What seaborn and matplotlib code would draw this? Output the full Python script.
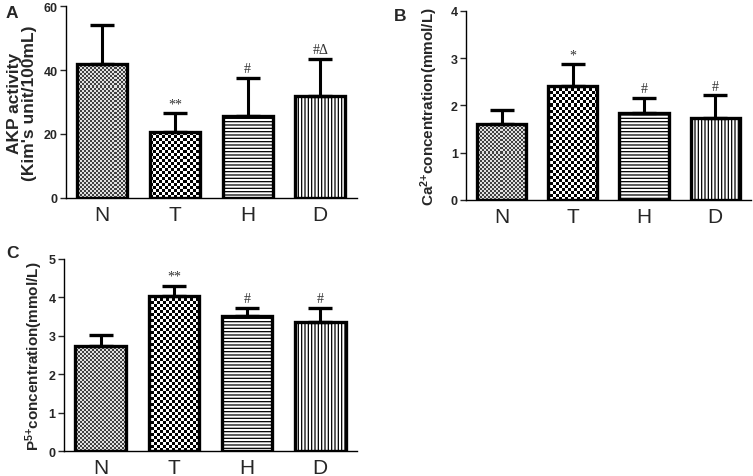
import matplotlib
matplotlib.use("Agg")
import matplotlib.pyplot as plt
import seaborn as sns
import numpy as np
import pandas as pd

# data
groups = ["N", "T", "H", "D"]
akp_mean = [42.0, 20.5, 25.5, 32.0]
akp_upper = [54.0, 26.5, 37.5, 43.5]
ca_mean = [1.60, 2.40, 1.83, 1.73]
ca_upper = [1.91, 2.87, 2.15, 2.21]
p_mean = [2.73, 4.03, 3.52, 3.35]
p_upper = [3.03, 4.30, 3.72, 3.73]
akp_marks = ["", "**", "#", "#\u0394"]
ca_marks = ["", "*", "#", "#"]
p_marks = ["", "**", "#", "#"]

sns.set_style("ticks")
plt.rcParams['font.family'] = ['Liberation Sans', 'DejaVu Sans']
plt.rcParams['mathtext.fontset'] = 'custom'
plt.rcParams['mathtext.rm'] = 'Liberation Sans'
plt.rcParams['mathtext.bf'] = 'Liberation Sans:bold'
plt.rcParams['mathtext.default'] = 'bf'
plt.rcParams['hatch.linewidth'] = 0.9
plt.rcParams['hatch.color'] = '#444444'

W, H = 7.53, 4.77
fig = plt.figure(figsize=(W, H), dpi=100)


def checker(ax, cell_px):
    bb = ax.get_position()
    nx = int(round(bb.width * W * 100 / cell_px))
    ny = int(round(bb.height * H * 100 / cell_px))
    yy, xx = np.mgrid[0:ny, 0:nx]
    return (xx + yy) % 2


def panel(rect, means, upper, marks, ymax, yticks, ylabel, ylabel_size,
          letter, lpos, ylabel_x):
    ax = fig.add_axes(rect)
    df = pd.DataFrame({"group": groups, "value": means})
    sns.barplot(data=df, x="group", y="value", color="white", edgecolor="black",
                linewidth=2.4, width=0.69, errorbar=None, ax=ax, zorder=3)
    bars = list(ax.patches)
    for b in bars:
        b.set_facecolor("none")
    # checkerboard fills for N (fine, grey) and T (coarse, black/white)
    for b, cell, cols in [(bars[0], 2, ("#e0e0e0", "#404040")),
                          (bars[1], 3, ("white", "black"))]:
        cmap = matplotlib.colors.ListedColormap(list(cols))
        im = ax.imshow(checker(ax, cell), cmap=cmap, vmin=0, vmax=1,
                       extent=(0, 1, 0, 1), transform=ax.transAxes,
                       interpolation="nearest", aspect="auto", zorder=2)
        im.set_clip_path(b)
    bars[2].set_hatch("-----")
    bars[3].set_hatch("|||||")

    err = np.array(upper) - np.array(means)
    ax.errorbar(range(4), means, yerr=[np.zeros(4), err], fmt="none",
                ecolor="black", elinewidth=2.2, capsize=8.5, capthick=2.4, zorder=4)
    for i, m in enumerate(marks):
        if m:
            ax.text(i, upper[i] + ymax * 0.015, m, ha="center", va="bottom",
                    fontsize=10, color="#333333",
                    family=["Liberation Serif", "DejaVu Serif"])

    ax.set_xlim(-0.5, 3.5)
    ax.set_ylim(0, ymax)
    ax.set_yticks(yticks)
    ax.set_yticklabels([str(t) for t in yticks], fontweight="bold", fontsize=9)
    ax.tick_params(axis="y", length=4, width=1, pad=2)
    ax.tick_params(axis="x", length=0, labelsize=15, pad=5)
    ax.set_xlabel("")
    ax.set_ylabel(ylabel, fontsize=ylabel_size, fontweight="bold", linespacing=1.0)
    ax.yaxis.set_label_coords(ylabel_x, 0.5)
    for s in ["top", "right"]:
        ax.spines[s].set_visible(False)
    for s in ["left", "bottom"]:
        ax.spines[s].set_linewidth(1.0)
        ax.spines[s].set_color("black")
    fig.text(lpos[0], lpos[1], letter, fontsize=12.5, fontweight="bold",
             ha="left", va="center")
    return ax


panel([0.0876, 0.583, 0.386, 0.402], akp_mean, akp_upper, akp_marks, 60,
      [0, 20, 40, 60], "AKP activity\n(Kim's unit/100mL)", 12.5,
      "A", (0.008, 0.972), -0.10)
panel([0.619, 0.579, 0.378, 0.396], ca_mean, ca_upper, ca_marks, 4,
      [0, 1, 2, 3, 4], r"Ca$^{2{+}}$concentration(mmol/L)", 11,
      "B", (0.523, 0.966), -0.09)
panel([0.085, 0.052, 0.389, 0.403], p_mean, p_upper, p_marks, 5,
      [0, 1, 2, 3, 4, 5], r"P$^{5{+}}$concentration(mmol/L)", 11,
      "C", (0.008, 0.468), -0.065)

fig.savefig("out.png", dpi=100)
